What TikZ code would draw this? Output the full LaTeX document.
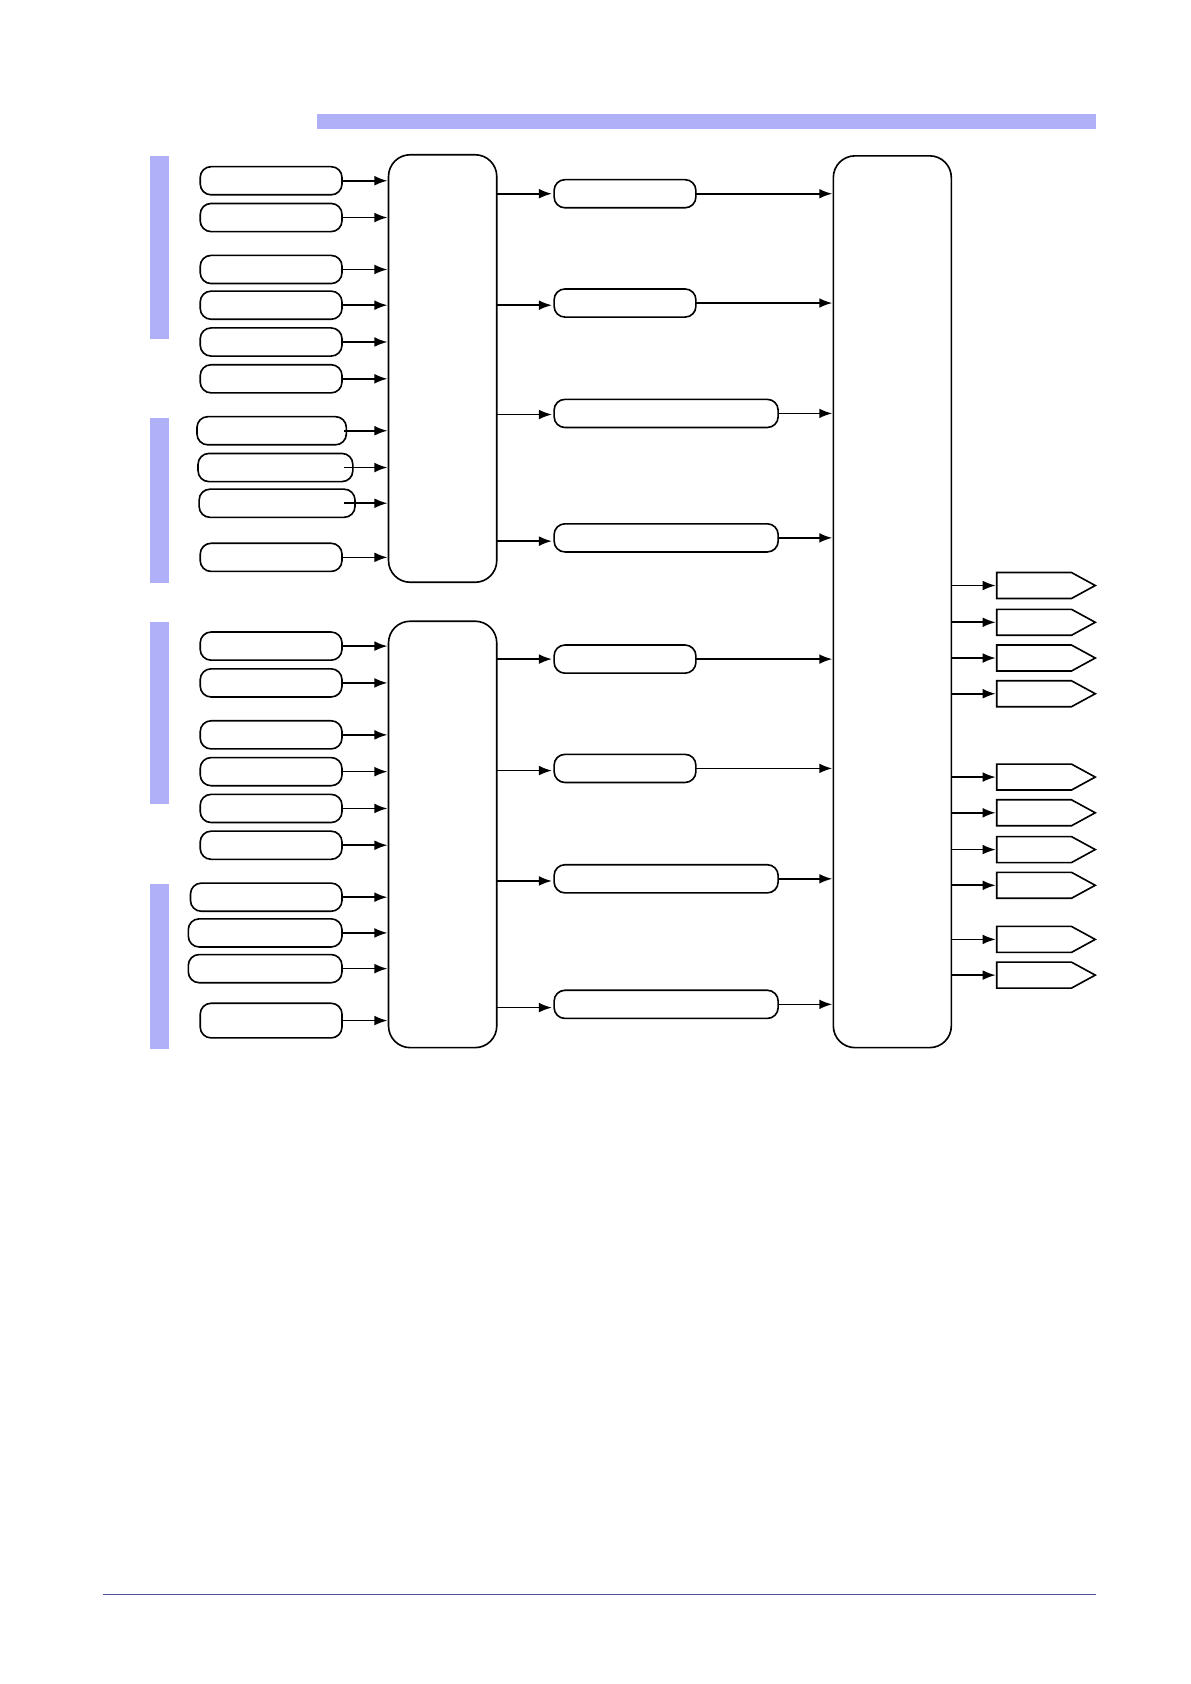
\documentclass[tikz,border=0pt]{standalone}
\usetikzlibrary{arrows.meta}
\definecolor{barblue}{HTML}{B0B0F8}
\definecolor{lineblue}{HTML}{5050A0}
\begin{document}
\begin{tikzpicture}[x=0.5pt,y=-0.5pt,line width=0.75pt,
  rbox/.style={draw,rounded corners=5pt},
  bigbox/.style={draw,rounded corners=10pt},
  arr/.style={-{Latex[length=6pt,width=4.5pt]}},
  bar/.style={fill=barblue,draw=none}]
\useasboundingbox (0,0) rectangle (1100,1556);
\fill[barblue] (293,105) rectangle (1013,119);
\draw[lineblue,line width=0.6pt] (95,1473) -- (1013,1473);
\foreach \a/\b in {144/313,386/539,575/743,817/969}
  \fill[barblue] (139,\a) rectangle (156,\b);
% mux boxes
\draw[bigbox] (359,143) rectangle (459,538);
\draw[bigbox] (359,574) rectangle (459,968);
\draw[bigbox] (770,144) rectangle (879,968);
\coordinate (m1) at (359,0); \coordinate (m2) at (359,0);
% left inputs
\foreach \n/\xa/\xb/\y/\s in {a1/185/316/167/316,a2/185/316/201/316,a3/185/316/249/316,a4/185/316/282/316,a5/185/316/316/316,a6/185/316/350/316,
 b1/182/320/398/318,b2/183/326/432/318,b3/184/328/465/318,b4/185/316/515/316,
 c1/185/316/597/316,c2/185/316/631/316,c3/185/316/679/316,c4/185/316/713/316,c5/185/316/747/316,c6/185/316/781/316,
 d1/176/316/829/316,d2/174/316/862/316,d3/174/316/895/316}{
  \draw[rbox] (\xa,\y-13) rectangle (\xb,\y+13);
  \coordinate (\n s) at (\s,\y); \coordinate (\n e) at (358,\y);
  \draw[arr] (\n s) -- (\n e);
}
\draw[rbox] (185,927) rectangle (316,959);
\coordinate (d4s) at (316,943); \coordinate (d4e) at (358,943);
\draw[arr] (d4s) -- (d4e);
% middle boxes
\foreach \n/\y/\xb/\ya in {p1/179/643/179,p2/280/643/282,p3/382/719/383,p4/497/719/500,q1/609/643/609,q2/710/643/712,q3/812/719/814,q4/928/719/931}{
  \draw[rbox] (512,\y-13) rectangle (\xb,\y+13);
  \coordinate (\n i) at (459,\ya); \coordinate (\n j) at (510,\ya);
  \draw[arr] (\n i) -- (\n j);
  \coordinate (\n o) at (\xb,\y); \coordinate (\n t) at (769,\y);
  \draw[arr] (\n o) -- (\n t);
}
% outputs
\foreach \y in {541,575,608,641,718,751,785,818,868,901}{
  \draw (921,\y-12) -- (990,\y-12) -- (1012,\y) -- (990,\y+12) -- (921,\y+12) -- cycle;
  \coordinate (os) at (879,\y); \coordinate (oe) at (920,\y);
  \draw[arr] (os) -- (oe);
}
\end{tikzpicture}
\end{document}
